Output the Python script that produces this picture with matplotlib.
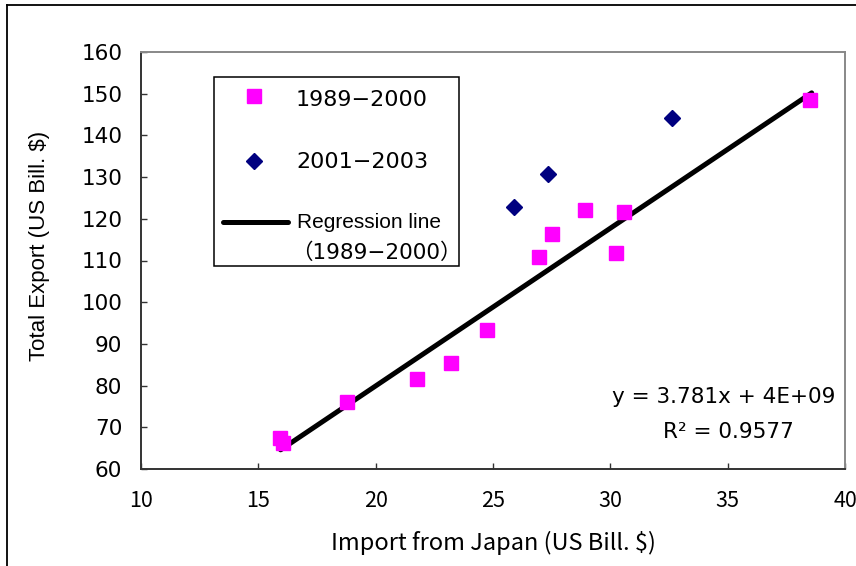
import matplotlib
matplotlib.use("Agg")
import matplotlib.pyplot as plt
from matplotlib.patches import Rectangle
from matplotlib.lines import Line2D

# ---- data ----
imp_8900 = [15.92, 16.06, 18.79, 21.75, 23.21, 24.74, 26.96, 27.50, 28.92, 30.25, 30.59, 38.50]
exp_8900 = [67.4, 66.3, 76.1, 81.7, 85.3, 93.3, 110.8, 116.4, 122.1, 111.7, 121.6, 148.5]
imp_0103 = [25.89, 27.33, 32.62]
exp_0103 = [122.9, 130.7, 144.1]
reg_x = [15.95, 38.58]
reg_y = [64.6, 150.2]
x_ticks = [10, 15, 20, 25, 30, 35, 40]
y_ticks = [60, 70, 80, 90, 100, 110, 120, 130, 140, 150, 160]
legend_labels = ["1989\u22122000", "2001\u22122003", "Regression line", "\uff081989\u22122000\uff09"]
eq_text = "y = 3.781x + 4E+09"
r2_text = "R\u00b2 = 0.9577"

PINK = "#FF00FF"
NAVY = "#000080"
CJK = ["Noto Sans CJK JP", "DejaVu Sans"]
DJ_CJK = ["DejaVu Sans", "Noto Sans CJK JP"]

fig = plt.figure(figsize=(8.56, 5.66), dpi=100)
W, H = 856, 566
L, R, T, B = 141, 845, 52, 469
ax = fig.add_axes([L / W, 1 - B / H, (R - L) / W, (B - T) / H])

ax.plot(reg_x, reg_y, color="black", lw=3.6, solid_capstyle="round", zorder=2)
ax.plot(imp_8900, exp_8900, ls="none", marker="s", ms=10.5, color=PINK, mec=PINK, zorder=3)
ax.plot(imp_0103, exp_0103, ls="none", marker="D", ms=8.5, color=NAVY, mec=NAVY, zorder=3)

ax.set_xlim(10, 40)
ax.set_ylim(60, 160)
ax.set_xticks(x_ticks)
ax.set_yticks(y_ticks)
ax.set_xticklabels([str(v) for v in x_ticks], family=CJK, fontsize=15.5)
ax.set_yticklabels([str(v) for v in y_ticks], family="DejaVu Sans", fontsize=15.5)
ax.tick_params(axis="both", direction="in", length=4, width=1, color="#333333")
ax.tick_params(axis="y", pad=13.5)
ax.tick_params(axis="x", pad=15)

for s in ["left", "bottom"]:
    ax.spines[s].set_color("#333333")
    ax.spines[s].set_linewidth(1.4)
for s in ["top", "right"]:
    ax.spines[s].set_color("#888888")
    ax.spines[s].set_linewidth(1.4)

ax.set_xlabel("Import from Japan (US Bill. $)", family=CJK, fontsize=17)
ax.set_ylabel("Total Export (US Bill. $)", family="Liberation Sans", fontsize=16)
ax.xaxis.set_label_coords((493 - L) / (R - L), (B - 531) / (B - T))
ax.yaxis.set_label_coords((50 - L) / (R - L), (B - 246) / (B - T))


def axc(px, py):
    return ((px - L) / (R - L), (B - py) / (B - T))


# ---- legend box ----
x0, y0 = axc(214, 266)
x1, y1 = axc(459, 77)
ax.add_patch(Rectangle((x0, y0), x1 - x0, y1 - y0, transform=ax.transAxes,
                       facecolor="white", edgecolor="black", lw=1.1, zorder=4))
px, py = axc(254, 96)
ax.plot([px], [py], transform=ax.transAxes, marker="s", ms=10.5, color=PINK, ls="none", zorder=5)
px, py = axc(254, 161)
ax.plot([px], [py], transform=ax.transAxes, marker="D", ms=8.5, color=NAVY, ls="none", zorder=5)
ax.add_line(Line2D([axc(223, 222)[0], axc(288, 222)[0]], [axc(223, 222)[1]] * 2,
                   transform=ax.transAxes, color="black", lw=3.6, solid_capstyle="round", zorder=5))
tx, ty = axc(296, 100)
ax.text(tx, ty, legend_labels[0], transform=ax.transAxes, family="DejaVu Sans", fontsize=16,
        va="center", ha="left", zorder=6)
tx, ty = axc(296, 162)
ax.text(tx, ty, legend_labels[1], transform=ax.transAxes, family="DejaVu Sans", fontsize=16,
        va="center", ha="left", zorder=6)
tx, ty = axc(297, 223)
ax.text(tx, ty, legend_labels[2], transform=ax.transAxes, family="Liberation Sans", fontsize=15,
        va="center", ha="left", zorder=6)
tx, ty = axc(291, 253)
ax.text(tx, ty, legend_labels[3], transform=ax.transAxes, family=DJ_CJK, fontsize=15.5,
        va="center", ha="left", zorder=6)

# ---- equation ----
tx, ty = axc(724, 397)
ax.text(tx, ty, eq_text, transform=ax.transAxes, family="DejaVu Sans", fontsize=15.5,
        ha="center", va="center")
tx, ty = axc(728, 432)
ax.text(tx, ty, r2_text, transform=ax.transAxes, family="DejaVu Sans", fontsize=15.5,
        ha="center", va="center")

# ---- chart area border (top and left) ----
fig.add_artist(Line2D([7 / W, 1.0], [1 - 4.5 / H, 1 - 4.5 / H], color="black", lw=1.3))
fig.add_artist(Line2D([7 / W, 7 / W], [0.0, 1 - 4.5 / H], color="black", lw=1.3))

fig.savefig("out.png", dpi=100)
